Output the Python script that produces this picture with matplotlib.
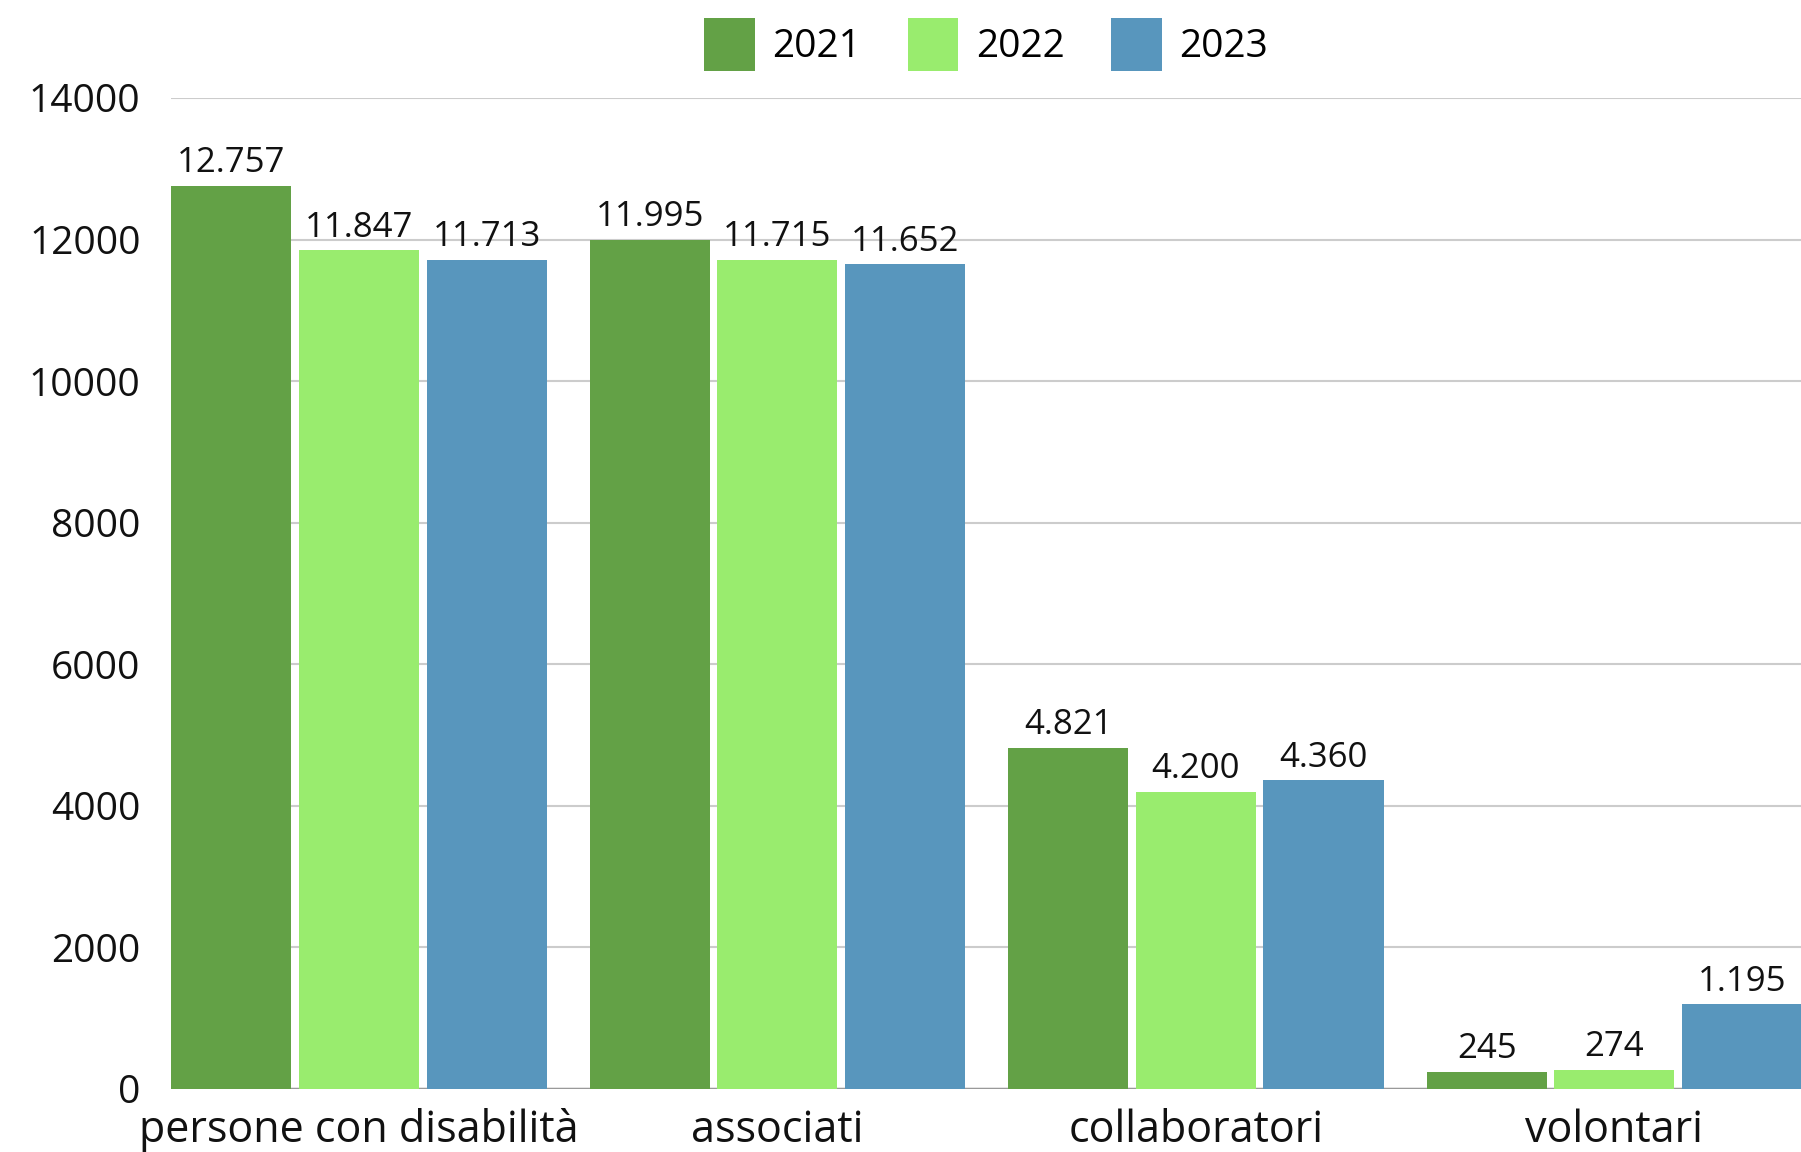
import numpy as np
import matplotlib.pyplot as plt

# Data
categories = ["persone con disabilità", "associati", "collaboratori", "volontari"]
years = ["2021", "2022", "2023"]
values_2021 = [12757, 11995, 4821, 245]
values_2022 = [11847, 11715, 4200, 274]
values_2023 = [11713, 11652, 4360, 1195]
colors = ["#63A146", "#99EC6E", "#5896BD"]

plt.rcParams['font.family'] = ['Open Sans', 'DejaVu Sans']

fig = plt.figure(figsize=(18.01, 11.52), dpi=100)
ax = fig.add_axes([0.095, 0.0547, 0.905, 0.8603])

x = np.arange(len(categories))
pitch = 0.305
width = 0.287
series = [values_2021, values_2022, values_2023]

for i, (vals, year, color) in enumerate(zip(series, years, colors)):
    bars = ax.bar(x + (i - 1) * pitch, vals, width, color=color, label=year, zorder=3)
    labels = [f"{v:,}".replace(",", ".") for v in vals]
    ax.bar_label(bars, labels=labels, padding=4, fontsize=25, color="#111111")

ax.set_xlim(-0.449, 3.446)
ax.set_ylim(0, 14000)
ax.set_yticks(range(0, 14001, 2000))
ax.set_xticks(x)
ax.set_xticklabels(categories)

ax.grid(axis="y", color="#cccccc", linewidth=1.5, zorder=0)
ax.axhline(0, color="#999999", linewidth=2.5, zorder=2)
for side in ["top", "right", "left", "bottom"]:
    ax.spines[side].set_visible(False)
ax.tick_params(axis="both", length=0, colors="#111111")
ax.tick_params(axis="y", pad=22, labelsize=28)
ax.tick_params(axis="x", pad=14, labelsize=31)

ax.legend(loc="lower center", bbox_to_anchor=(0.5, 1.0), ncol=3, frameon=False,
          fontsize=28, handlelength=1.3, handleheight=1.7, handletextpad=0.45,
          columnspacing=1.2, borderaxespad=0.3)

plt.savefig("out.png", dpi=100)
